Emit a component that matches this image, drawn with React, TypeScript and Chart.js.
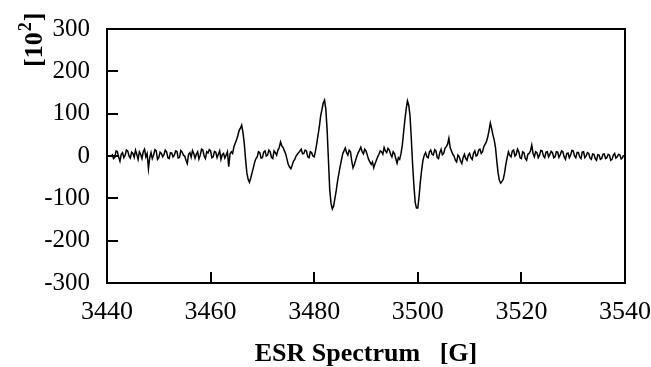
import React, { useEffect, useRef } from "react";
import { Chart, registerables } from "chart.js";

Chart.register(...registerables);

// Magnetic field sampling grid (G)
const fieldStart = 3441;
const fieldStep = 0.25;

// ESR signal intensity [10^2], one value per 0.25 G (rows of 5 G)
const intensity = [
  5, -6, -3, 12, 10, -2, -12, 4, 8, -4, 2, 14, 12, 0, -5, 9, 6, -3, 14, 4,
  -8, 10, 4, -6, 10, 16, -2, 6, -30, -4, 8, -6, 2, 15, 12, -8, -4, 9, 6, -2,
  3, 14, 10, -4, -6, 8, 7, -2, 2, 12, 11, -5, -3, 13, 9, 2, 0, -10, -18, 4,
  8, -3, 13, 6, -5, 4, 10, -7, 2, 16, 14, 0, -6, 10, 7, 15, 12, -4, -2, 11,
  9, -4, 4, 12, -8, 3, 6, -5, 2, 10, -25, 5, 10, 6, 22, 30, 38, 48, 60, 66,
  73, 55, 30, -8, -40, -55, -62, -52, -40, -28, -15, -6, -2, 10, 8, -5, -4, 9, 12, 0,
  2, 14, 10, -3, -6, 12, 8, 2, 14, 20, 33, 24, 20, 12, 5, -8, -20, -26, -30, -22,
  -12, -8, 0, 4, 8, 12, 16, 5, 6, 14, 12, -2, -4, 10, 8, 0, -2, 12, 30, 50,
  70, 95, 110, 125, 132, 110, 60, -10, -80, -112, -125, -118, -100, -82, -60, -42, -25, -10, 5, 12,
  19, 8, 2, 14, 10, -12, -28, -20, -10, 0, 8, 14, 21, 10, 5, 16, 12, 2, -8, -14,
  -20, -14, -28, -18, -10, -2, 4, 12, 10, 4, 20, 12, 8, 18, 14, 4, -2, 10, 6, -6,
  -17, -4, -8, 5, 25, 55, 85, 110, 130, 120, 95, 40, -20, -70, -110, -123, -123, -95, -60, -32,
  -10, 2, 8, -2, -4, 10, 14, 4, 2, 15, 12, -3, -6, 8, 16, 3, 6, 18, 22, 28,
  42, 20, 12, 4, 0, -10, -14, 2, -2, -12, -18, -4, 4, -6, -10, 2, 6, -4, -8, 6,
  12, 0, 2, 14, 16, 6, 10, 22, 28, 34, 45, 60, 78, 65, 50, 38, 20, -12, -40, -58,
  -64, -60, -55, -40, -20, -4, 10, 2, -2, 12, 14, 0, 4, 16, 10, -4, -6, 10, 8, -6,
  -10, 4, 6, 12, 26, 6, -2, 10, 8, -4, 2, 13, 12, 0, -4, 9, 10, -2, 4, 11,
  8, -4, -2, 10, 9, -3, 3, 12, 10, -2, -8, 6, 7, -4, 2, 13, 12, 0, -4, 8,
  8, -2, -6, 9, 10, -4, 0, 8, 6, -5, -8, 5, 4, -6, -10, 3, 2, -8, -6, 4,
  5, -6, -4, 4, 2, -10, -8, 2, 6, -5, -2, 4, 3, -7, -4, 2,
];

const xInnerTicks = [3460, 3480, 3500, 3520];
const yInnerTicks = [-200, -100, 0, 100, 200];

const xTitle = "ESR Spectrum   [G]";
const yTitleBase = "[10";
const yTitleSup = "2";
const yTitleEnd = "]";

const FONT = "'Liberation Serif', 'Times New Roman', serif";

const framePlugin = {
  id: "frameAndTicks",
  afterDraw(chart: any) {
    const { ctx, chartArea, scales } = chart;
    const { left, right, top, bottom } = chartArea;
    ctx.save();
    ctx.strokeStyle = "#000";
    ctx.lineWidth = 2;
    ctx.strokeRect(left, top, right - left, bottom - top);
    ctx.beginPath();
    for (const v of yInnerTicks) {
      const y = Math.round(scales.y.getPixelForValue(v));
      ctx.moveTo(left, y);
      ctx.lineTo(left + 11, y);
    }
    for (const v of xInnerTicks) {
      const x = Math.round(scales.x.getPixelForValue(v));
      ctx.moveTo(x, bottom);
      ctx.lineTo(x, bottom - 11);
    }
    ctx.stroke();

    // rotated y title "[10²]"
    ctx.fillStyle = "#000";
    ctx.translate(42, 67);
    ctx.rotate(-Math.PI / 2);
    ctx.textBaseline = "alphabetic";
    ctx.textAlign = "left";
    ctx.font = `bold 26px ${FONT}`;
    let x = 0;
    ctx.fillText(yTitleBase, x, 0);
    x += ctx.measureText(yTitleBase).width;
    ctx.font = `bold 18px ${FONT}`;
    ctx.fillText(yTitleSup, x + 1, -11);
    x += ctx.measureText(yTitleSup).width + 2;
    ctx.font = `bold 26px ${FONT}`;
    ctx.fillText(yTitleEnd, x, 0);
    ctx.restore();
  },
};

export default function App() {
  const canvasRef = useRef<HTMLCanvasElement | null>(null);

  useEffect(() => {
    const canvas = canvasRef.current;
    if (!canvas) return;
    const points = intensity.map((v, i) => ({ x: fieldStart + i * fieldStep, y: v }));
    const chart = new Chart(canvas, {
      type: "line",
      data: {
        datasets: [
          {
            data: points,
            borderColor: "#000",
            borderWidth: 1.5,
            pointRadius: 0,
            tension: 0,
            fill: false,
          },
        ],
      },
      options: {
        animation: false,
        responsive: false,
        maintainAspectRatio: false,
        layout: { padding: { top: 29, right: 26, bottom: 0, left: 0 } },
        plugins: {
          legend: { display: false },
          tooltip: { enabled: false },
          title: { display: false },
        },
        scales: {
          x: {
            type: "linear",
            min: 3440,
            max: 3540,
            grid: { display: false, drawTicks: false },
            border: { display: false },
            ticks: {
              stepSize: 20,
              color: "#000",
              padding: 14,
              maxRotation: 0,
              font: { family: FONT, size: 26 },
              callback: (v: any) => String(v),
            },
            title: {
              display: true,
              text: xTitle,
              color: "#000",
              font: { family: FONT, size: 26, weight: "bold", lineHeight: 1 },
              padding: { top: 0, bottom: 0 },
            },
            afterFit: (scale: any) => {
              scale.height = 84;
              scale.paddingLeft = 0;
              scale.paddingRight = 0;
            },
          },
          y: {
            min: -300,
            max: 300,
            grid: { display: false, drawTicks: false },
            border: { display: false },
            ticks: {
              stepSize: 100,
              color: "#000",
              padding: 17,
              font: { family: FONT, size: 25 },
              callback: (v: any) => String(v),
            },
            afterFit: (scale: any) => {
              scale.width = 107;
              scale.paddingTop = 0;
              scale.paddingBottom = 0;
            },
          },
        },
      },
      plugins: [framePlugin],
    });
    return () => chart.destroy();
  }, []);

  return (
    <div style={{ position: "fixed", left: 0, top: 0, width: 651, height: 367, background: "#fff" }}>
      <canvas ref={canvasRef} width={651} height={367} style={{ display: "block" }} />
    </div>
  );
}
